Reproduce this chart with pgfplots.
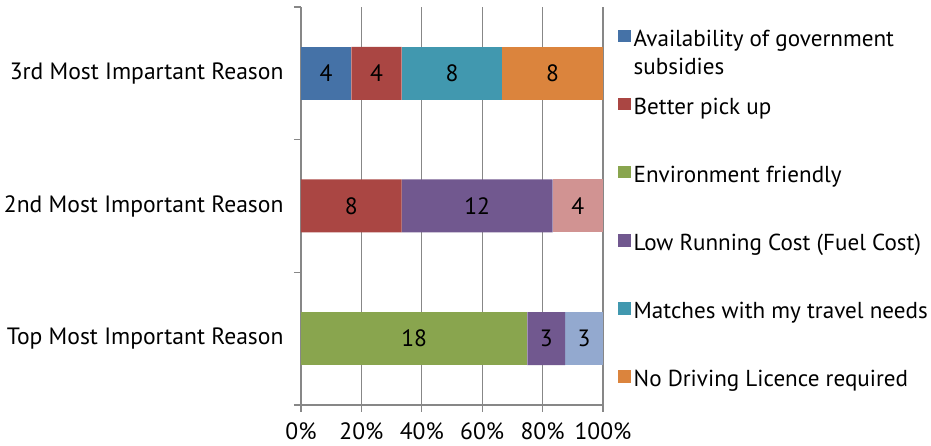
\documentclass[border=0pt]{standalone}
\usepackage{pgfplots}
\pgfplotsset{compat=1.18}
\usepackage{pgfplotstable}
\usepackage{fontspec}
\setmainfont{PT Sans}

\definecolor{cSubs}{HTML}{4572A7}
\definecolor{cPick}{HTML}{AA4643}
\definecolor{cEnv}{HTML}{89A54E}
\definecolor{cLow}{HTML}{71588F}
\definecolor{cMatch}{HTML}{4198AF}
\definecolor{cLic}{HTML}{DB843D}
\definecolor{cOtherA}{HTML}{93A9CF}
\definecolor{cOtherB}{HTML}{D19392}
\definecolor{axisgray}{HTML}{878787}

% respondents per reason; rows: 0 = top, 1 = second, 2 = third most important
\pgfplotstableread{
pos subs pick env low match lic otherA otherB
0   0    0    18  3   0     0   3      0
1   0    8    0   12  0     0   0      4
2   4    4    0   0   8     8   0      0
}\reasons

\newcommand{\chartfont}{\fontsize{23.6}{28}\selectfont}
\newcommand{\legendfont}{\fontsize{23.1}{28}\selectfont}

\begin{document}
\begin{tikzpicture}
\begin{axis}[
  name=ax,
  scale only axis, width=302pt, height=398pt,
  xbar stacked, bar width=53pt,
  xmin=0, xmax=24, ymin=-0.5, ymax=2.5,
  enlargelimits=false,
  xtick={0,4.8,9.6,14.4,19.2,24},
  xticklabels={0\%,20\%,40\%,60\%,80\%,100\%},
  ytick={0,1,2},
  yticklabels={Top Most Important Reason,2nd Most Important Reason,3rd Most Impartant Reason},
  minor ytick={-0.5,0.5,1.5,2.5},
  axis x line*=bottom, axis y line*=left,
  axis line style={axisgray, line width=1.3pt},
  tick align=outside, major tick length=7pt, minor tick length=7pt,
  major x tick style={axisgray, line width=1.3pt},
  major y tick style={draw=none},
  minor y tick style={axisgray, line width=1.3pt},
  xmajorgrids, grid style={axisgray, line width=1.3pt},
  font=\chartfont,
  ticklabel style={font=\chartfont, text=black},
  yticklabel style={xshift=-7pt},
  xticklabel style={yshift=-7pt},
  /pgf/number format/assume math mode=true,
  point meta=explicit,
  nodes near coords={\pgfmathfloatifflags{\pgfplotspointmeta}{0}{}{\pgfmathprintnumber{\pgfplotspointmeta}}},
  every node near coord/.append style={anchor=center, font=\chartfont, text=black},
  legend style={at={(1.0497,0.956)}, anchor=north west, draw=none, fill=none,
    font=\legendfont, row sep=43pt, column sep=1pt, inner sep=0pt,
    nodes={inner sep=2pt}},
  legend cell align=left,
  legend image code/.code={\fill[#1,draw=none] (0pt,-5pt) rectangle (12.5pt,7.5pt);},
]
\addplot[fill=cSubs, draw=none] table[x=subs, y=pos, meta=subs]{\reasons};
\addlegendentry{\raisebox{0pt}[\height][\dp\strutbox]{\begin{tabular}[t]{@{}l@{}}\strut Availability of government\\subsidies\end{tabular}}}
\addplot[fill=cPick, draw=none] table[x=pick, y=pos, meta=pick]{\reasons};
\addlegendentry{\strut Better pick up}
\addplot[fill=cEnv, draw=none] table[x=env, y=pos, meta=env]{\reasons};
\addlegendentry{\strut Environment friendly}
\addplot[fill=cLow, draw=none] table[x=low, y=pos, meta=low]{\reasons};
\addlegendentry{\strut Low Running Cost (Fuel Cost)}
\addplot[fill=cMatch, draw=none] table[x=match, y=pos, meta=match]{\reasons};
\addlegendentry{\strut Matches with my travel needs}
\addplot[fill=cLic, draw=none] table[x=lic, y=pos, meta=lic]{\reasons};
\addlegendentry{\strut No Driving Licence required}
\addplot[fill=cOtherA, draw=none, forget plot] table[x=otherA, y=pos, meta=otherA]{\reasons};
\addplot[fill=cOtherB, draw=none, forget plot] table[x=otherB, y=pos, meta=otherB]{\reasons};
\end{axis}
\pgfresetboundingbox
\path (ax.south west) ++(-301pt,-41pt) rectangle ++(931pt,446pt);
\end{tikzpicture}
\end{document}
